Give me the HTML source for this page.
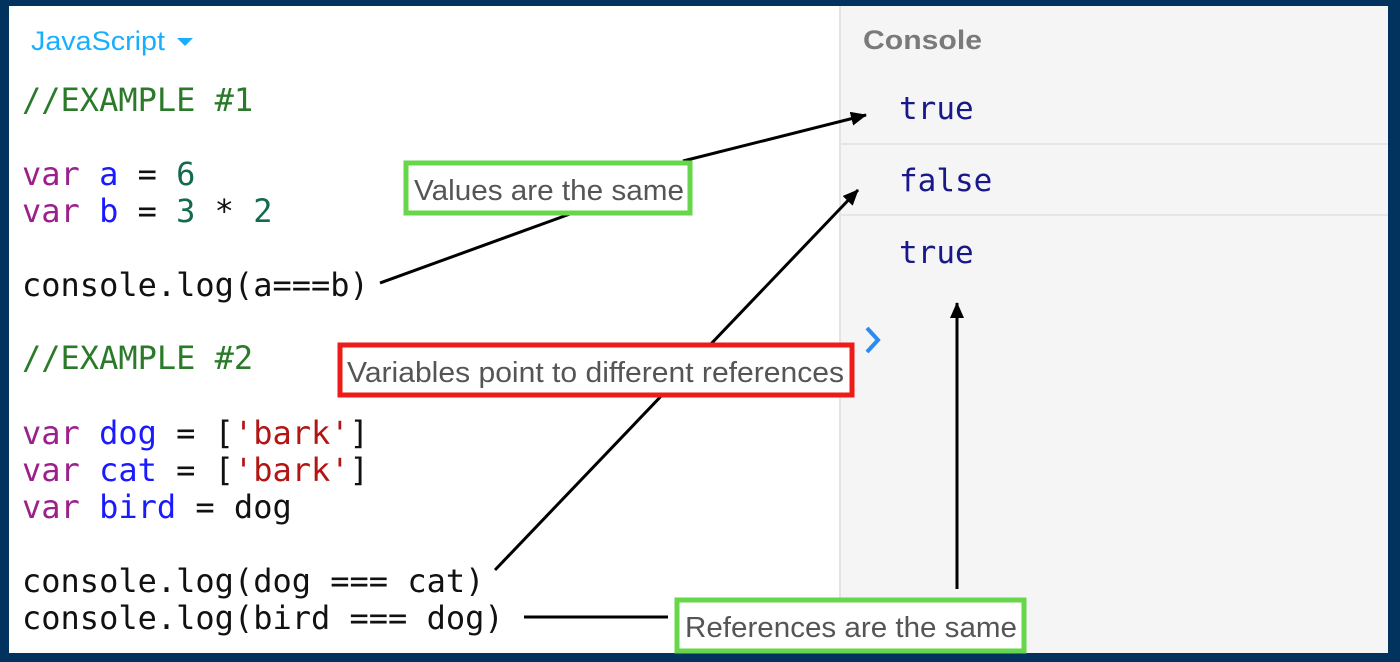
<!DOCTYPE html>
<html><head><meta charset="utf-8"><style>
html,body{margin:0;padding:0;background:#02335e;}
svg{display:block}
.c{font-family:"DejaVu Sans Mono","Liberation Mono",monospace;font-size:32px;}
.k{fill:#9c1f8c}.d{fill:#1a1aff}.n{fill:#126b4a}.s{fill:#b31414}.cm{fill:#2a7a2a}.p{fill:#111}
.o{font-family:"DejaVu Sans Mono","Liberation Mono",monospace;font-size:31px;fill:#18188a}
.l{font-family:"Liberation Sans",sans-serif;font-size:29px;fill:#555}
</style></head><body>
<svg width="1400" height="662" viewBox="0 0 1400 662" xmlns="http://www.w3.org/2000/svg">
<defs>
<marker id="b" markerWidth="16" markerHeight="14" refX="15" refY="7" orient="auto" markerUnits="userSpaceOnUse"><path d="M0,0 L16,7 L0,14 z" fill="#000"/></marker></defs>
<rect x="0" y="0" width="1400" height="662" fill="#02335e"/>
<rect x="9" y="6" width="831" height="647" fill="#fff"/>
<rect x="840" y="6" width="548" height="647" fill="#f5f5f5"/>
<line x1="840" y1="6" x2="840" y2="653" stroke="#e4e4e4" stroke-width="2"/>
<line x1="840" y1="144" x2="1388" y2="144" stroke="#e6e6e6" stroke-width="2"/>
<line x1="840" y1="215" x2="1388" y2="215" stroke="#e6e6e6" stroke-width="2"/>
<text x="31" y="50" font-family="Liberation Sans,sans-serif" font-size="27" fill="#1aaeff" textLength="134" lengthAdjust="spacingAndGlyphs">JavaScript</text>
<path d="M177,38 L193,38 L185,46 z" fill="#1aaeff"/>
<text x="863" y="49" font-family="Liberation Sans,sans-serif" font-size="27" font-weight="bold" fill="#7a7a7a" textLength="119" lengthAdjust="spacingAndGlyphs">Console</text>
<g class="c">
<text x="22" y="111" class="cm">//EXAMPLE #1</text>
<text x="22" y="185"><tspan class="k">var</tspan> <tspan class="d">a</tspan> <tspan class="p">=</tspan> <tspan class="n">6</tspan></text>
<text x="22" y="222"><tspan class="k">var</tspan> <tspan class="d">b</tspan> <tspan class="p">=</tspan> <tspan class="n">3</tspan> <tspan class="p">*</tspan> <tspan class="n">2</tspan></text>
<text x="22" y="296" class="p">console.log(a===b)</text>
<text x="22" y="369" class="cm">//EXAMPLE #2</text>
<text x="22" y="444"><tspan class="k">var</tspan> <tspan class="d">dog</tspan> <tspan class="p">= [</tspan><tspan class="s">'bark'</tspan><tspan class="p">]</tspan></text>
<text x="22" y="481"><tspan class="k">var</tspan> <tspan class="d">cat</tspan> <tspan class="p">= [</tspan><tspan class="s">'bark'</tspan><tspan class="p">]</tspan></text>
<text x="22" y="518"><tspan class="k">var</tspan> <tspan class="d">bird</tspan> <tspan class="p">= dog</tspan></text>
<text x="22" y="592" class="p">console.log(dog === cat)</text>
<text x="22" y="629" class="p">console.log(bird === dog)</text>
</g>
<text x="899" y="119" class="o">true</text>
<text x="899" y="191" class="o">false</text>
<text x="899" y="263" class="o">true</text>
<path d="M867,328 L878,340 L867,352" fill="none" stroke="#2a8cf0" stroke-width="4"/>
<g stroke="#000" stroke-width="3" fill="none">
<line x1="380" y1="283" x2="570" y2="214"/>
<line x1="683" y1="161" x2="866" y2="115" marker-end="url(#b)"/>
<line x1="495" y1="570" x2="858" y2="190" marker-end="url(#b)"/>
<line x1="524" y1="617" x2="668" y2="617"/>
<line x1="957" y1="589" x2="957" y2="303" marker-end="url(#b)"/>
</g>
<rect x="406" y="163" width="284" height="50" fill="#fff" stroke="#66d64a" stroke-width="5"/>
<text x="414" y="200" class="l" textLength="270" lengthAdjust="spacingAndGlyphs">Values are the same</text>
<rect x="340" y="345" width="512" height="50" fill="#fff" stroke="#ee1c18" stroke-width="5"/>
<text x="347" y="382" class="l" textLength="497" lengthAdjust="spacingAndGlyphs">Variables point to different references</text>
<rect x="677" y="600" width="347" height="51" fill="#fff" stroke="#66d64a" stroke-width="5"/>
<text x="685" y="637" class="l" textLength="332" lengthAdjust="spacingAndGlyphs">References are the same</text>
</svg>
</body></html>
